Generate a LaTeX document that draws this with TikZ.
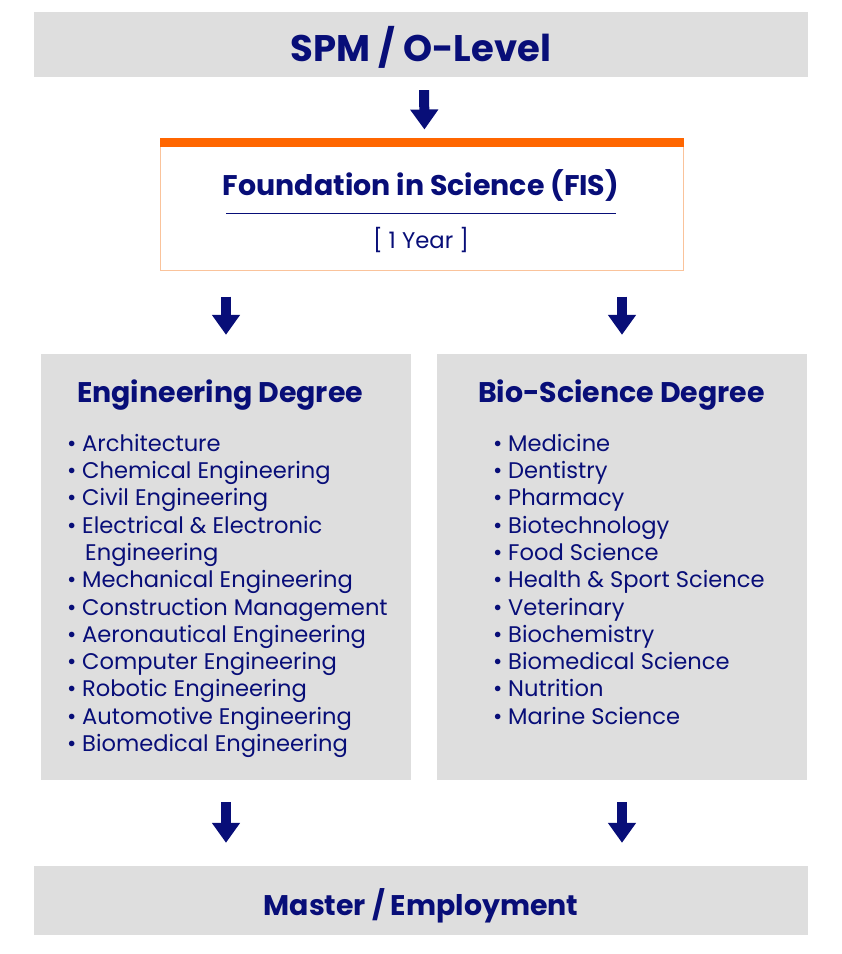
\documentclass[tikz,border=0pt]{standalone}
\usepackage{fontspec}
\setmainfont{Poppins}
\usetikzlibrary{arrows.meta}
\definecolor{navy}{RGB}{8,14,120}
\definecolor{boxgray}{RGB}{222,222,222}
\definecolor{fisorange}{RGB}{255,102,0}
\definecolor{fisborder}{RGB}{250,195,155}
\newcommand{\itm}{\makebox[15pt][l]{•}}
\newcommand{\itmcont}{\makebox[18pt][l]{}}
\begin{document}
\begin{tikzpicture}[
  x=1pt, y=-1pt,
  graybox/.style={rectangle, fill=boxgray, inner sep=0pt},
  blockarrow/.style={navy, line width=10pt, -{Triangle[width=27pt,length=20pt]}},
  headline/.style={text=navy, font=\fontsize{37}{44}\selectfont\bfseries, inner sep=0pt},
  boxtitle/.style={text=navy, font=\fontsize{28.4}{34}\selectfont\bfseries, inner sep=0pt},
  itemlist/.style={text=navy, font=\fontsize{22.6}{27.27}\selectfont, align=left, inner sep=0pt}
]
\useasboundingbox (0,0) rectangle (842,954);

% top and bottom bars
\node[graybox, minimum width=774pt, minimum height=65pt] (spm) at (421,44.5) {};
\node[headline] at (421,47) {SPM / O-Level};
\node[graybox, minimum width=774pt, minimum height=69pt] (master) at (421,900.5) {};
\node[boxtitle] at (421,906) {Master / Employment};

% foundation box
\node[rectangle, draw=fisborder, fill=white, line width=1pt, minimum width=523pt, minimum height=132pt, inner sep=0pt] (fis) at (421.5,204) {};
\fill[fisorange] (fis.north west) rectangle ([yshift=-9pt]fis.north east);
\node[boxtitle] (fistitle) at (421,185) {Foundation in Science (FIS)};
\draw[navy, line width=1pt] (226,213) -- (616,213);
\node[text=navy, font=\fontsize{22.7}{27}\selectfont, inner sep=0pt] (fisyear) at (421,240) {[ 1 Year ]};

% degree boxes
\node[graybox, minimum width=370pt, minimum height=426pt] (eng) at (226,567) {};
\node[graybox, minimum width=370pt, minimum height=426pt] (bio) at (622,567) {};
\node[boxtitle, anchor=west] (engtitle) at (77,395) {Engineering Degree};
\node[boxtitle, anchor=west] (biotitle) at (478,395) {Bio-Science Degree};

\node[itemlist, anchor=north west] (englist) at (67,434) {%
\itm Architecture\\
\itm Chemical Engineering\\
\itm Civil Engineering\\
\itm Electrical \& Electronic\\
\itmcont Engineering\\
\itm Mechanical Engineering\\
\itm Construction Management\\
\itm Aeronautical Engineering\\
\itm Computer Engineering\\
\itm Robotic Engineering\\
\itm Automotive Engineering\\
\itm Biomedical Engineering};

\node[itemlist, anchor=north west] (biolist) at (493,434) {%
\itm Medicine\\
\itm Dentistry\\
\itm Pharmacy\\
\itm Biotechnology\\
\itm Food Science\\
\itm Health \& Sport Science\\
\itm Veterinary\\
\itm Biochemistry\\
\itm Biomedical Science\\
\itm Nutrition\\
\itm Marine Science};

% arrows
\draw[blockarrow, shorten <=13pt, shorten >=8pt] ([xshift=3pt]spm.south) -- ([xshift=3pt]fis.north);
\draw[blockarrow, shorten <=26pt, shorten >=19pt] (fis.south -| eng.north) -- (eng.north);
\draw[blockarrow, shorten <=26pt, shorten >=19pt] (fis.south -| bio.north) -- (bio.north);
\draw[blockarrow, shorten <=22pt, shorten >=23pt] (eng.south) -- (master.north -| eng.south);
\draw[blockarrow, shorten <=22pt, shorten >=23pt] (bio.south) -- (master.north -| bio.south);
\end{tikzpicture}
\end{document}
